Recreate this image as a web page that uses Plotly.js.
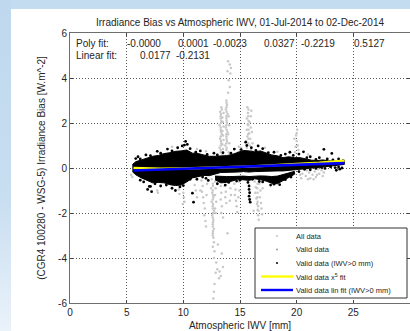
<!DOCTYPE html>
<html>
<head>
<meta charset="utf-8">
<script src="https://cdn.plot.ly/plotly-3.0.1.min.js"></script>
<style>
  html, body { margin: 0; padding: 0; background: #fff; }
  #wrap { position: relative; width: 410px; height: 331px; overflow: hidden; }
  #chart { position: absolute; left: 0; top: 0; width: 410px; height: 331px; }
  #frameTop { position: absolute; left: 0; top: 0; width: 410px; height: 9px; background: #c4dcf0; }
  #frameLeft { position: absolute; left: 0; top: 0; width: 11px; height: 331px;
               background: linear-gradient(#bfd8ee, #c8def1 60%, #eaf2fa); }
</style>
</head>
<body>
<div id="wrap">
  <div id="chart"></div>
  <div id="frameTop"></div>
  <div id="frameLeft"></div>
</div>
<script>
// ---- Fit coefficients (as printed in the axes) ----
const polyCoefText = ['-0.0000', '0.0001', '-0.0023', '0.0327', '-0.2219', '0.5127'];
const linCoef = [0.0177, -0.2131];

// ---- Axis ticks ----
const xTickVals = [0, 5, 10, 15, 20, 25, 30];
const yTickVals = [-6, -4, -2, 0, 2, 4, 6];
const yTickText = ['-6', '-4', '-2', '0', '2', '4', '6'];

// ---- Valid data (IWV>0 mm): dense core band, envelope per IWV ----
const bandX   = [5.5, 5.8, 6.3, 6.8, 7.3, 7.8, 8.3, 8.8, 9.3, 9.8, 10.3, 10.8, 11.3, 11.8, 12.3, 12.8, 13.3, 13.8, 14.3, 14.8, 15.3, 15.8, 16.3, 16.8, 17.3, 17.8, 18.3, 18.8, 19.3, 19.8, 20.3, 20.8, 21.3, 21.8, 22.3, 22.8, 23.3, 23.8, 24.2];
const bandTop = [0.15, 0.28, 0.36, 0.44, 0.52, 0.56, 0.64, 0.68, 0.74, 0.76, 0.80, 0.66, 0.64, 0.58, 0.52, 0.52, 0.52, 0.55, 0.60, 0.68, 0.78, 0.76, 0.72, 0.76, 0.66, 0.58, 0.54, 0.46, 0.50, 0.46, 0.46, 0.40, 0.35, 0.33, 0.36, 0.32, 0.30, 0.30, 0.28];
const bandBot = [-0.16, -0.30, -0.44, -0.56, -0.66, -0.64, -0.66, -0.74, -0.78, -0.76, -0.62, -0.44, -0.38, -0.33, -0.34, -0.27, -0.20, -0.18, -0.18, -0.18, -0.16, -0.18, -0.16, -0.15, -0.13, -0.13, -0.13, -0.13, -0.10, -0.08, -0.06, -0.03, -0.01, 0.02, 0.04, 0.07, 0.10, 0.13, 0.16];

// lower strand of the same series, separated from the core by a thin gap
const strandX   = [12.8, 13.3, 13.8, 14.3, 14.8, 15.3, 15.8, 16.3, 16.8, 17.3, 17.8, 18.3, 18.8, 19.3, 19.8];
const strandTop = [-0.36, -0.38, -0.38, -0.38, -0.36, -0.36, -0.38, -0.36, -0.35, -0.36, -0.38, -0.36, -0.30, -0.22, -0.15];
const strandBot = [-0.52, -0.66, -0.64, -0.58, -0.50, -0.52, -0.55, -0.48, -0.52, -0.58, -0.68, -0.70, -0.58, -0.42, -0.28];

// isolated IWV>0 points around the band (ragged edges and outliers)
const blackPts = [
  [5.8, 0.42], [6.0, 0.5], [10.1, 1.02], [10.2, 1.18], [10.35, 1.05], [9.9, 0.98],
  [15.5, 1.15], [15.6, 1.0], [16.6, 0.98], [19.4, 0.7], [20.6, 0.72], [22.4, 0.83], [23.1, 0.65],
  [23.4, 0.02], [23.5, -0.1], [23.8, -0.05], [24.0, 0.0], [23.7, 0.05],
  [6.85, -0.95], [7.2, -1.05], [7.0, -0.82], [9.3, -1.0], [12.2, -0.55],
  [10.8, -1.12], [10.9, -1.52],
  [15.8, -0.8], [15.8, -0.95], [15.85, -1.1], [15.8, -1.25], [15.85, -1.4], [15.9, -1.52],
  [6.2, 0.4], [6.7, 0.58], [7.1, 0.55], [7.7, 0.74], [8.0, 0.66], [8.6, 0.84], [9.0, 0.76], [9.5, 0.9],
  [10.6, 0.86], [11.1, 0.7], [11.5, 0.76], [12.1, 0.6], [12.7, 0.66], [13.0, 0.58], [13.5, 0.68], [14.2, 0.66],
  [14.5, 0.84], [15.1, 0.82], [16.0, 0.9], [16.4, 0.78], [17.0, 0.86], [17.5, 0.68], [18.0, 0.7], [18.6, 0.56],
  [19.0, 0.62], [19.7, 0.56], [20.2, 0.62], [20.9, 0.46], [21.2, 0.5], [21.7, 0.38], [22.0, 0.46], [22.7, 0.4],
  [23.2, 0.36], [23.7, 0.4], [24.1, 0.33],
  [6.2, -0.54], [6.5, -0.62], [7.1, -0.82], [7.5, -0.7], [8.0, -0.8], [8.5, -0.76], [9.0, -0.9], [9.7, -0.84],
  [10.0, -0.78], [10.6, -0.5], [11.2, -0.5], [11.7, -0.4], [12.0, -0.46], [13.0, -0.7], [13.7, -0.76],
  [14.0, -0.64], [14.7, -0.58], [15.0, -0.54], [15.7, -0.64], [16.1, -0.5], [16.7, -0.6], [17.0, -0.62],
  [17.7, -0.76], [18.0, -0.72], [18.5, -0.74], [19.0, -0.52], [19.5, -0.4], [20.2, -0.16], [20.7, -0.06],
  [21.2, -0.08], [21.7, -0.02], [22.2, 0.02], [22.5, -0.02], [23.0, 0.05]
];

// ---- All data: points outside the valid band ----
const grayUp = [
  [13.25, 0.5], [13.3, 0.7], [13.2, 0.9], [13.35, 1.1], [13.25, 1.3], [13.4, 1.5], [13.3, 1.7], [13.2, 1.9],
  [13.35, 2.1], [13.3, 2.3], [13.25, 2.5], [13.35, 2.7], [13.45, 0.6], [13.5, 0.85], [13.45, 1.05], [13.55, 1.25],
  [13.5, 1.45], [13.45, 1.65], [13.55, 1.85], [13.5, 2.05], [13.45, 2.25], [13.55, 2.45], [13.4, 2.6],
  [13.3, 0.8], [13.3, 1.0], [13.32, 1.2], [13.3, 1.4], [13.32, 1.6], [13.3, 1.8], [13.32, 2.0], [13.3, 2.2], [13.32, 2.4],
  [13.75, 0.55], [13.8, 0.8], [13.7, 1.0], [13.85, 1.2], [13.8, 1.4], [13.9, 1.6], [13.75, 1.8], [13.85, 2.0],
  [13.8, 2.2], [13.9, 2.4], [13.75, 2.6], [13.85, 2.8], [13.8, 3.0], [14.0, 0.7], [14.05, 1.1], [13.95, 1.5],
  [14.05, 1.9], [14.0, 2.3], [13.82, 0.9], [13.8, 1.1], [13.82, 1.3], [13.8, 1.5], [13.82, 1.7], [13.8, 1.9],
  [13.82, 2.1], [13.8, 2.3], [13.82, 2.5], [13.8, 2.7], [13.82, 2.9],
  [13.95, 4.75], [14.1, 4.6], [14.2, 4.45], [13.9, 4.3], [14.15, 4.2], [14.0, 3.9], [14.1, 3.6], [13.95, 3.35],
  [15.5, 0.6], [15.6, 0.9], [15.55, 1.2], [15.65, 1.4], [15.6, 1.7], [15.7, 1.95], [15.6, 2.2], [15.7, 2.45],
  [15.65, 2.7], [15.8, 0.7], [15.85, 1.0], [15.9, 1.3], [15.8, 1.55], [15.95, 1.8], [15.85, 2.05], [15.95, 2.3],
  [16.0, 2.55], [16.05, 1.6], [16.1, 1.1], [16.0, 0.8], [15.75, 2.6], [15.72, 1.1], [15.75, 1.3], [15.72, 1.5],
  [15.75, 1.7], [15.72, 1.9], [15.75, 2.1], [15.72, 2.3],
  [14.9, 0.95], [15.0, 0.8], [15.1, 0.9], [14.85, 0.7],
  [19.85, 0.7], [19.9, 0.95], [20.0, 1.2], [19.95, 1.45], [20.05, 1.7], [20.1, 1.0], [20.15, 0.8], [19.8, 1.3], [20.0, 1.55],
  [11.2, 0.85], [12.0, 0.75], [17.2, 0.9], [18.3, 0.72], [21.0, 0.6], [9.0, 0.95]
];
const grayDown = [
  [12.5, -0.5], [12.6, -0.7], [12.45, -0.9], [12.55, -1.1], [12.65, -1.3], [12.5, -1.5], [12.6, -1.7], [12.7, -1.9],
  [12.55, -2.1], [12.65, -2.3], [12.6, -2.5], [12.7, -2.7], [12.6, -2.9], [12.65, -3.1], [12.7, -3.3], [12.6, -3.5],
  [12.75, -3.7], [12.8, -0.6], [12.85, -0.9], [12.8, -1.2], [12.9, -1.5], [12.8, -1.8], [12.85, -2.0],
  [12.62, -0.8], [12.6, -1.0], [12.62, -1.2], [12.6, -1.4], [12.62, -1.6], [12.6, -1.8], [12.62, -2.0], [12.6, -2.2],
  [12.62, -2.4], [12.6, -2.6], [12.62, -2.8], [12.6, -3.0],
  [12.7, -4.0], [12.9, -4.2], [13.0, -4.5], [12.85, -4.65], [13.2, -4.6], [13.3, -4.8], [13.15, -4.9], [12.75, -5.15],
  [12.7, -5.5], [12.65, -5.8], [13.5, -4.4], [13.4, -3.8], [13.9, -2.9], [13.05, -3.4],
  [13.25, -0.5], [13.3, -0.8], [13.35, -1.1], [13.3, -1.4], [13.4, -1.7], [13.35, -2.0], [13.7, -0.5], [13.65, -0.8],
  [13.75, -1.05], [13.7, -1.3], [13.8, -1.55], [14.1, -0.6], [14.15, -0.9], [14.2, -1.2], [14.1, -1.45], [13.5, -2.2],
  [11.6, -0.55], [11.7, -0.8], [11.65, -1.05], [11.75, -1.3], [11.8, -1.55], [11.9, -1.8], [11.85, -2.1], [11.95, -2.35],
  [12.0, -2.6], [12.05, -1.2], [12.1, -0.7], [11.5, -1.0],
  [14.45, -0.45], [14.5, -0.7], [14.6, -0.95], [14.55, -1.2], [14.65, -1.45], [14.7, -1.7], [14.75, -1.95], [14.9, -0.6],
  [14.95, -1.0], [14.85, -1.3],
  [16.3, -0.6], [16.4, -0.85], [16.35, -1.1], [16.45, -1.35], [16.5, -1.6], [16.55, -1.85], [16.6, -2.1], [16.65, -2.3],
  [16.7, -0.7], [16.8, -1.0], [16.75, -1.3], [16.85, -1.55], [16.9, -1.8], [16.95, -2.05], [17.0, -0.9], [16.2, -1.9],
  [16.55, -0.7], [16.52, -0.9], [16.55, -1.1], [16.52, -1.3], [16.55, -1.5], [16.6, -1.7], [16.62, -1.9],
  [10.0, -1.1], [10.05, -1.3], [10.1, -1.5], [9.95, -1.6], [7.7, -1.0], [7.75, -1.1], [9.6, -0.95], [9.65, -1.15],
  [11.0, -0.75], [11.1, -1.0], [11.2, -1.3], [5.4, -0.3], [5.5, -0.4]
];
const grayBlob = [
  [20.2, -0.15], [20.5, -0.25], [20.8, -0.35], [21.1, -0.2], [21.4, -0.3], [21.7, -0.4], [22.0, -0.25], [22.3, -0.35],
  [20.4, -0.45], [20.9, -0.1], [21.2, -0.45], [21.6, -0.15], [21.9, -0.05], [22.2, -0.1], [20.6, -0.05], [21.0, -0.5],
  [21.5, -0.5], [22.4, -0.2], [20.3, -0.3], [21.8, -0.3], [19.8, -0.25], [19.6, -0.3]
];

// ---- Valid data (all IWV): lies beneath the IWV>0 band ----
const validPts = [[7.5, 0.1], [10.0, 0.2], [13.0, 0.1], [17.0, 0.3], [21.0, 0.2]];

// ---- 5th-order fit curve, sampled along IWV ----
const polyX = [5.6, 8, 10, 12, 14, 16, 18, 20, 22, 24.2];
const polyY = [0.0, -0.03, -0.02, 0.0, 0.03, 0.07, 0.12, 0.17, 0.23, 0.32];

// linear fit drawn from its printed coefficients
const linX = [5.6, 24.2];
const linY = linX.map(x => linCoef[0] * x + linCoef[1]);

const xs = pts => pts.map(p => p[0]);
const ys = pts => pts.map(p => p[1]);
const allPts = grayUp.concat(grayDown, grayBlob);

const FONT = 'Liberation Sans, Arial, Helvetica, sans-serif';
const INK = '#262626';

const traces = [
  { type: 'scatter', mode: 'markers', name: 'All data', x: xs(allPts), y: ys(allPts),
    marker: { color: '#c8c8c8', size: 2.5 }, showlegend: false, hoverinfo: 'skip' },
  { type: 'scatter', mode: 'markers', name: 'Valid data', x: xs(validPts), y: ys(validPts),
    marker: { color: '#9a9a9a', size: 2.5 }, showlegend: false, hoverinfo: 'skip' },
  { type: 'scatter', mode: 'lines', x: bandX.concat(bandX.slice().reverse()),
    y: bandTop.concat(bandBot.slice().reverse()), fill: 'toself', fillcolor: '#000',
    line: { color: '#000', width: 1 }, showlegend: false, hoverinfo: 'skip' },
  { type: 'scatter', mode: 'lines', x: strandX.concat(strandX.slice().reverse()),
    y: strandTop.concat(strandBot.slice().reverse()), fill: 'toself', fillcolor: '#000',
    line: { color: '#000', width: 1 }, showlegend: false, hoverinfo: 'skip' },
  { type: 'scatter', mode: 'markers', name: 'Valid data (IWV>0 mm)', x: xs(blackPts), y: ys(blackPts),
    marker: { color: '#000', size: 2.8 }, showlegend: false, hoverinfo: 'skip' },
  { type: 'scatter', mode: 'lines', name: 'Valid data x^5 fit', x: polyX, y: polyY,
    line: { color: '#ffff00', width: 2.6 }, showlegend: false, hoverinfo: 'skip' },
  { type: 'scatter', mode: 'lines', name: 'Valid data lin fit', x: linX, y: linY,
    line: { color: '#0000ff', width: 2.6 }, showlegend: false, hoverinfo: 'skip' }
];

// plot-area pixel box and pixel -> paper helpers
const PL = 70, PT = 33, PR = 410, PB = 303;
const px = x => (x - PL) / (PR - PL);
const py = y => (PB - y) / (PB - PT);

const annotations = [];
const txt = (x, y, text, size) => annotations.push({
  xref: 'paper', yref: 'paper', x: px(x), y: py(y), xanchor: 'left', yanchor: 'middle',
  text: text, showarrow: false, font: { family: FONT, size: size, color: INK }, borderpad: 0
});

// fit coefficient lines
const polyPos = [126, 177, 212, 263, 300, 353];
txt(75, 43, 'Poly fit:', 10);
polyCoefText.forEach((t, i) => txt(polyPos[i], 43, t, 10));
txt(75, 56, 'Linear fit:', 10);
txt(139, 56, linCoef[0].toFixed(4), 10);
txt(175, 56, linCoef[1].toFixed(4), 10);

// legend box
const legendItems = [
  { label: 'All data', kind: 'dot', color: '#c6c6c6' },
  { label: 'Valid data', kind: 'dot', color: '#9a9a9a' },
  { label: 'Valid data (IWV>0 mm)', kind: 'dot', color: '#000' },
  { label: 'Valid data x<sup>5</sup> fit', kind: 'line', color: '#ffff00' },
  { label: 'Valid data lin fit (IWV>0 mm)', kind: 'line', color: '#0000ff' }
];
const shapes = [{
  type: 'rect', xref: 'paper', yref: 'paper', x0: px(255), x1: px(407), y0: py(298), y1: py(228),
  fillcolor: '#fff', line: { color: '#333', width: 1 }, layer: 'above'
}];
legendItems.forEach((it, i) => {
  const yy = 236 + i * 13.5;
  if (it.kind === 'line') {
    shapes.push({ type: 'line', xref: 'paper', yref: 'paper', x0: px(261), x1: px(293), y0: py(yy), y1: py(yy),
      line: { color: it.color, width: 2.4 }, layer: 'above' });
  } else {
    shapes.push({ type: 'circle', xref: 'paper', yref: 'paper', x0: px(276), x1: px(278), y0: py(yy + 1), y1: py(yy - 1),
      fillcolor: it.color, line: { width: 0 }, layer: 'above' });
  }
  txt(295, yy, it.label, 7.5);
});

const axisCommon = {
  showline: true, mirror: 'ticks', linecolor: '#6e6e6e', linewidth: 1,
  ticks: 'inside', ticklen: 3, tickcolor: '#444', tickwidth: 1,
  showgrid: true, gridcolor: '#5a5a5a', griddash: '1px,2px', gridwidth: 1,
  zeroline: false, tickfont: { family: FONT, size: 10, color: INK }
};

const layout = {
  width: 410, height: 331,
  margin: { l: PL, r: 410 - PR, t: PT, b: 331 - PB, pad: 0 },
  paper_bgcolor: '#fff', plot_bgcolor: '#fff',
  showlegend: false,
  font: { family: FONT, size: 10, color: INK },
  title: { text: 'Irradiance Bias vs Atmospheric IWV, 01-Jul-2014 to 02-Dec-2014',
           font: { family: FONT, size: 10, color: INK },
           xref: 'paper', x: 0.5, xanchor: 'center', yref: 'container', y: 1 - 22 / 331, yanchor: 'middle' },
  xaxis: Object.assign({}, axisCommon, {
    range: [0, 30], tickvals: xTickVals, autorange: false,
    title: { text: 'Atmospheric IWV [mm]', font: { family: FONT, size: 10, color: INK }, standoff: 4 }
  }),
  yaxis: Object.assign({}, axisCommon, {
    range: [-6, 6], tickvals: yTickVals, ticktext: yTickText, autorange: false,
    title: { text: '(CGR4 100280 - WSG-5) Irradiance Bias [W.m^-2]', font: { family: FONT, size: 10, color: INK }, standoff: 10 }
  }),
  shapes: shapes,
  annotations: annotations
};

Plotly.newPlot('chart', traces, layout, { staticPlot: true, displayModeBar: false });
</script>
</body>
</html>
